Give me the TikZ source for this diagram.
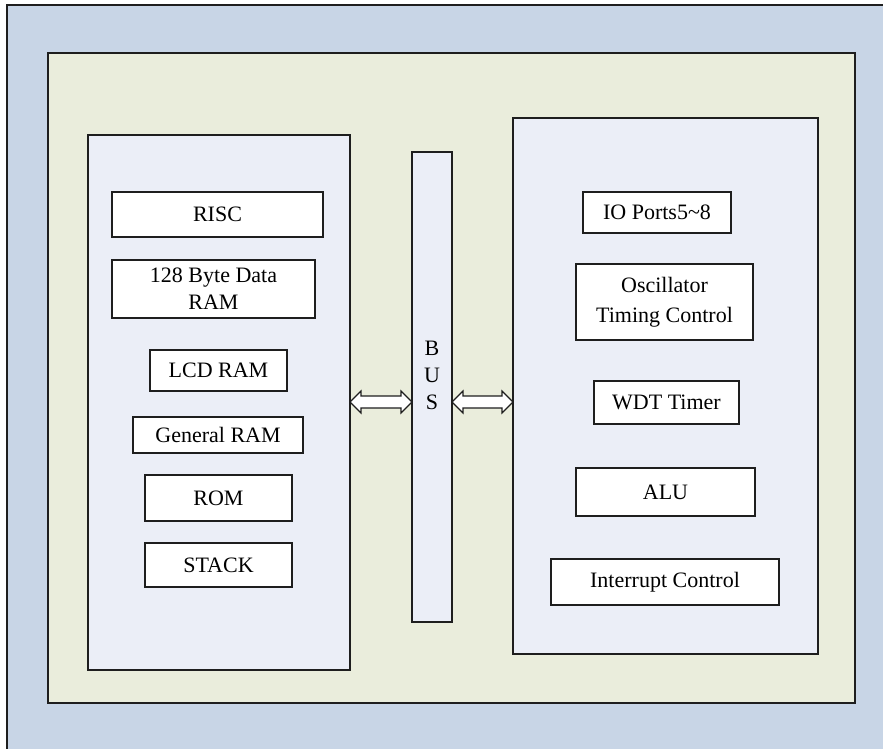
\documentclass[tikz,border=0pt]{standalone}
\usepackage{fontspec}
\setmainfont{Liberation Serif}
\usetikzlibrary{calc}
\definecolor{outerblue}{HTML}{C8D5E6}
\definecolor{boardgreen}{HTML}{EAEDDC}
\definecolor{panelfill}{HTML}{EBEEF7}
\definecolor{edge}{HTML}{1E1E1E}
\begin{document}
\begin{tikzpicture}[x=1pt,y=-1pt,
  frame/.style={draw=edge,line width=1.6pt},
  unit/.style={draw=edge,line width=1.4pt,fill=white,align=center,
    font=\fontsize{22}{26}\selectfont},
  busletter/.style={font=\fontsize{22}{26}\selectfont},
  busarrow/.style={draw=edge,line width=1.1pt,fill=white,line join=miter}]
\useasboundingbox (0,0) rectangle (883,749);
% outer casing and board
\fill[outerblue] (7,5) rectangle (883,749);
\draw[edge,line width=1.6pt] (7,749) -- (7,5) -- (883,5);
\filldraw[fill=boardgreen,frame] (48,53) rectangle (855,703);
% panels and bus
\filldraw[fill=panelfill,frame] (88,135) rectangle (350,670);
\filldraw[fill=panelfill,frame] (513,118) rectangle (818,654);
\filldraw[fill=panelfill,frame] (412,152) rectangle (452,622);
\node[busletter] (busB) at (432,348) {B};
\node[busletter] (busU) at (432,375) {U};
\node[busletter] (busS) at (432,402) {S};
% left panel units
\node[unit,minimum width=211pt,minimum height=45pt] (risc) at (217.5,214.5) {RISC};
\node[unit,minimum width=203pt,minimum height=58pt,inner sep=1pt] (dram) at (213.5,289) {128 Byte Data\\[1pt]RAM};
\node[unit,minimum width=137pt,minimum height=41pt] (lcd) at (218.5,370.5) {LCD RAM};
\node[unit,minimum width=170pt,minimum height=36pt,inner sep=1pt] (gram) at (218,435) {General RAM};
\node[unit,minimum width=147pt,minimum height=46pt] (rom) at (218.5,498) {ROM};
\node[unit,minimum width=147pt,minimum height=44pt] (stack) at (218.5,565) {STACK};
% right panel units
\node[unit,minimum width=148pt,minimum height=41pt,inner sep=1pt] (io) at (657,212.5) {IO Ports5\textasciitilde 8};
\node[unit,minimum width=177pt,minimum height=76pt,inner sep=1pt] (osc) at (664.5,302) {Oscillator\\[4pt]Timing Control};
\node[unit,minimum width=145pt,minimum height=43pt] (wdt) at (666.5,402.5) {WDT Timer};
\node[unit,minimum width=179pt,minimum height=48pt] (alu) at (665.5,492) {ALU};
\node[unit,minimum width=228pt,minimum height=46pt] (irq) at (665,582) {Interrupt Control};
% hollow double arrows between the panels and the bus
\coordinate (la) at (350,402);
\coordinate (lb) at (412,402);
\coordinate (ra) at (452,402);
\coordinate (rb) at (513,402);
\filldraw[busarrow] (la) -- ++(11,-11) -- ++(0,5) -- ($(lb)+(-11,-6)$) -- ++(0,-5)
  -- (lb) -- ++(-11,11) -- ++(0,-5) -- ($(la)+(11,6)$) -- ++(0,5) -- cycle;
\filldraw[busarrow] (ra) -- ++(11,-11) -- ++(0,5) -- ($(rb)+(-11,-6)$) -- ++(0,-5)
  -- (rb) -- ++(-11,11) -- ++(0,-5) -- ($(ra)+(11,6)$) -- ++(0,5) -- cycle;
\end{tikzpicture}
\end{document}
